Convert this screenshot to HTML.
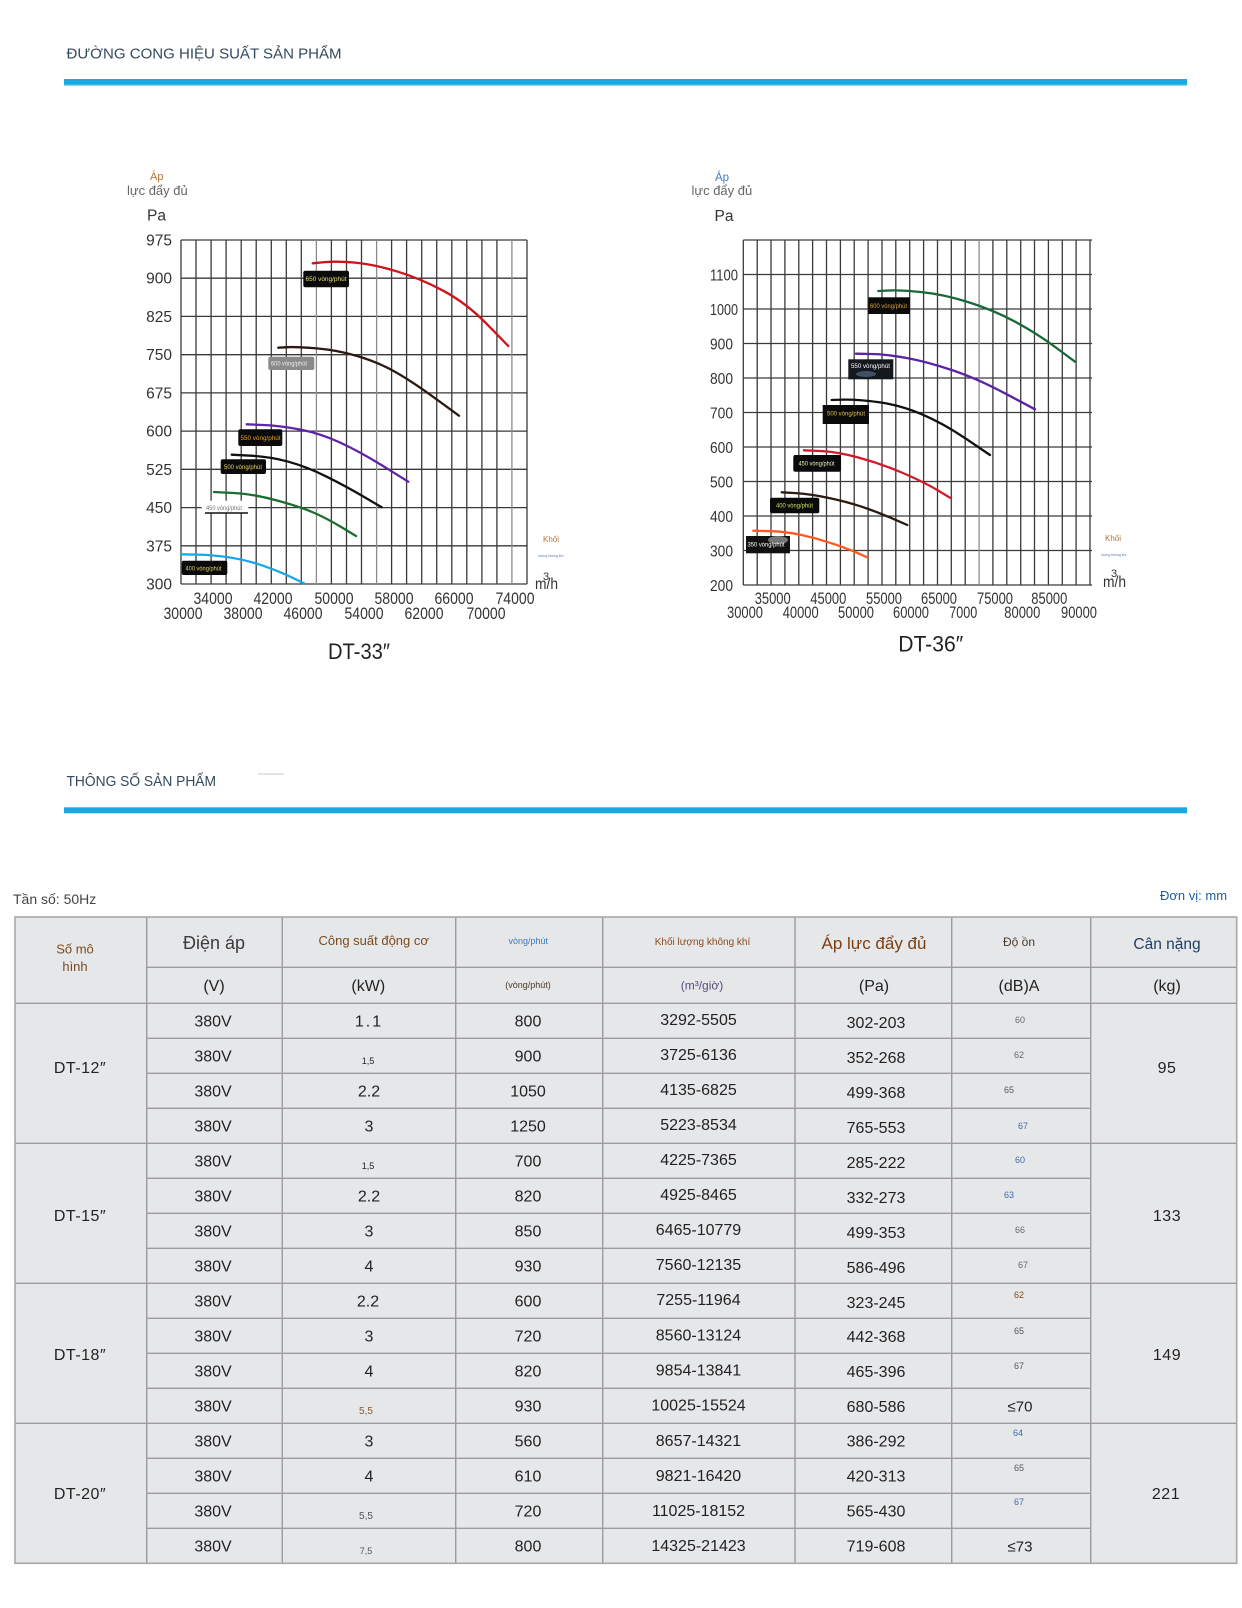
<!DOCTYPE html>
<html><head><meta charset="utf-8"><style>
html,body{margin:0;padding:0;background:#fff;}
body{width:1242px;height:1608px;overflow:hidden;}
svg{display:block;}
</style></head><body>
<svg width="1242" height="1608" viewBox="0 0 1242 1608" xmlns="http://www.w3.org/2000/svg" font-family="'Liberation Sans', Arial, sans-serif">
<rect width="1242" height="1608" fill="#fff"/>

<!-- Section headers -->
<text x="66.5" y="58.5" font-size="15.2" fill="#34495e" textLength="275" lengthAdjust="spacingAndGlyphs">ĐƯỜNG CONG HIỆU SUẤT SẢN PHẨM</text>
<rect x="64" y="79" width="1123" height="6.5" fill="#1ba7e0"/>
<rect x="64" y="84.5" width="1123" height="1.2" fill="#5cc3ee"/>

<text x="66.5" y="786" font-size="15" fill="#34495e" textLength="149.5" lengthAdjust="spacingAndGlyphs">THÔNG SỐ SẢN PHẨM</text>
<line x1="258" y1="774" x2="284" y2="774" stroke="#c8c8c8" stroke-width="1"/>
<rect x="64" y="807.3" width="1123" height="6" fill="#1ba7e0"/>

<!-- ============ CHART 1 ============ -->
<text x="150" y="180" font-size="11" fill="#b5733a">Áp</text>
<text x="127" y="195" font-size="13" fill="#666">lực đẩy đủ</text>
<text x="147" y="220.5" font-size="15.5" fill="#333">Pa</text>

<g stroke="#3a3a3a" stroke-width="1.3" fill="none">
<path d="M181 240V584M196 240V584M211.1 240V584M226.1 240V584M241.2 240V584M256.2 240V584M271.3 240V584M286.3 240V584M301.3 240V584M331.4 240V584M346.5 240V584M361.5 240V584M391.6 240V584M406.6 240V584M421.7 240V584M436.7 240V584M451.8 240V584M466.8 240V584M481.9 240V584M496.9 240V584M527 240V584"/>
<path d="M181 240H527M181 278.2H527M181 316.4H527M181 354.7H527M181 392.9H527M181 431.1H527M181 469.3H527M181 507.6H527M181 545.8H527M181 584H527"/>
</g>
<g stroke="#8c8c8c" stroke-width="1.3" fill="none">
<path d="M316.4 240V584M376.6 240V584M511.9 240V584"/>
</g>

<g font-size="15.5" fill="#333" text-anchor="end">
<text x="172" y="245.5">975</text>
<text x="172" y="283.7">900</text>
<text x="172" y="321.9">825</text>
<text x="172" y="360.2">750</text>
<text x="172" y="398.4">675</text>
<text x="172" y="436.6">600</text>
<text x="172" y="474.8">525</text>
<text x="172" y="513.1">450</text>
<text x="172" y="551.3">375</text>
<text x="172" y="589.5">300</text>
</g>

<g font-size="17" fill="#333" text-anchor="middle">
<text x="213" y="604" textLength="39" lengthAdjust="spacingAndGlyphs">34000</text>
<text x="273" y="604" textLength="39" lengthAdjust="spacingAndGlyphs">42000</text>
<text x="334" y="604" textLength="39" lengthAdjust="spacingAndGlyphs">50000</text>
<text x="394" y="604" textLength="39" lengthAdjust="spacingAndGlyphs">58000</text>
<text x="454" y="604" textLength="39" lengthAdjust="spacingAndGlyphs">66000</text>
<text x="515" y="604" textLength="39" lengthAdjust="spacingAndGlyphs">74000</text>
<text x="183" y="619" textLength="39" lengthAdjust="spacingAndGlyphs">30000</text>
<text x="243" y="619" textLength="39" lengthAdjust="spacingAndGlyphs">38000</text>
<text x="303" y="619" textLength="39" lengthAdjust="spacingAndGlyphs">46000</text>
<text x="364" y="619" textLength="39" lengthAdjust="spacingAndGlyphs">54000</text>
<text x="424" y="619" textLength="39" lengthAdjust="spacingAndGlyphs">62000</text>
<text x="486" y="619" textLength="39" lengthAdjust="spacingAndGlyphs">70000</text>
</g>

<text x="543" y="542" font-size="8" fill="#b5733a">Khối</text>
<text x="538" y="557" font-size="3.5" fill="#5a7ab0">lượng không khí</text>
<text x="535" y="589" font-size="16" fill="#333" textLength="23" lengthAdjust="spacingAndGlyphs">m/h</text>
<text x="543" y="580" font-size="11" fill="#333">3</text>

<text x="359" y="659" font-size="22" fill="#222" text-anchor="middle" textLength="62" lengthAdjust="spacingAndGlyphs">DT-33″</text>

<!-- curves chart 1 -->
<g fill="none" stroke-width="2.3" stroke-linecap="round" stroke-linejoin="round">
<path stroke="#d0121b" d="M312.7,263.3 L324.7,262.15 Q336.7,261 355,262.65 Q373.3,264.3 396.65,271.3 Q420,278.3 443.35,290.8 Q466.7,303.3 487.5,324.65 L508.3,346"/>
<path stroke="#2a1a12" d="M278.3,347.7 L287.5,347.2 Q296.7,346.7 316.7,348.35 Q336.7,350 356.7,355.85 Q376.7,361.7 393.35,370.85 Q410,380 434.5,397.85 L459,415.7"/>
<path stroke="#5f22a8" d="M246.7,424.3 L263.35,425 Q280,425.7 300,429.5 Q320,433.3 340,442.5 Q360,451.7 384.15,466.7 L408.3,481.7"/>
<path stroke="#111" d="M231.7,454.7 L250.85,455.7 Q270,456.7 288.35,461.7 Q306.7,466.7 326.7,476.7 Q346.7,486.7 364.2,497 L381.7,507.3"/>
<path stroke="#1a6e2e" d="M214,492 L233.65,493 Q253.3,494 276.65,500.35 Q300,506.7 313.35,512.5 Q326.7,518.3 341.35,527.15 L356,536"/>
<path stroke="#1aa6e8" d="M181,554.3 L197.15,554.65 Q213.3,555 230,557.5 Q246.7,560 263.35,565.85 Q280,571.7 292,577.5 L304,583.3"/>
</g>

<!-- label boxes chart 1 -->
<g font-size="6">
<rect x="303.3" y="270.7" width="45.7" height="16.6" rx="2" fill="#0a0a0a"/>
<text x="305.5" y="281" fill="#e6e070" textLength="41" lengthAdjust="spacingAndGlyphs">650 vòng/phút</text>
<rect x="268.3" y="356.7" width="46" height="13.3" rx="2" fill="#8a8a8a"/>
<text x="271" y="365.5" fill="#eee" textLength="36" lengthAdjust="spacingAndGlyphs">600 vòng/phút</text>
<rect x="238.3" y="429.3" width="44" height="16.7" rx="2" fill="#0a0a0a"/>
<text x="240.5" y="440" fill="#f0a020" textLength="40" lengthAdjust="spacingAndGlyphs">550 vòng/phút</text>
<rect x="220.7" y="459.3" width="45.3" height="14.7" rx="2" fill="#0a0a0a"/>
<text x="224" y="469" fill="#e8d060" textLength="38" lengthAdjust="spacingAndGlyphs">500 vòng/phút</text>
<rect x="201.7" y="500.7" width="46.6" height="12.6" fill="#fff"/>
<text x="206" y="510" fill="#777" textLength="36" lengthAdjust="spacingAndGlyphs">450 vòng/phút</text>
<line x1="205" y1="513" x2="248" y2="513" stroke="#111" stroke-width="1.6"/>
<rect x="181.7" y="560.7" width="45.6" height="14.3" rx="2" fill="#0a0a0a"/>
<text x="185.5" y="570.5" fill="#e0d060" textLength="36" lengthAdjust="spacingAndGlyphs">400 vòng/phút</text>
</g>

<!-- ============ CHART 2 ============ -->
<text x="715" y="181" font-size="11.5" fill="#3d7cc9">Áp</text>
<text x="691.5" y="195" font-size="13" fill="#666">lực đẩy đủ</text>
<text x="714.5" y="221" font-size="15.5" fill="#333">Pa</text>

<g stroke="#3a3a3a" stroke-width="1.3" fill="none">
<path d="M743.3 240V585M757.2 240V585M771 240V585M784.9 240V585M798.8 240V585M812.6 240V585M826.5 240V585M840.4 240V585M854.2 240V585M868.1 240V585M882 240V585M895.8 240V585M909.7 240V585M923.6 240V585M937.5 240V585M951.3 240V585M965.2 240V585M992.9 240V585M1006.8 240V585M1020.7 240V585M1034.5 240V585M1048.4 240V585M1062.3 240V585M1076.1 240V585M1090 240V585"/>
<path d="M743.3 240H1092M743.3 274.5H1092M743.3 309H1092M743.3 343.5H1092M743.3 378H1092M743.3 412.5H1092M743.3 447H1092M743.3 481.5H1092M743.3 516H1092M743.3 550.5H1092M743.3 585H1092"/>
</g>
<g stroke="#8c8c8c" stroke-width="1.3" fill="none">
<path d="M979.1 240V585"/>
</g>

<g font-size="16" fill="#333">
<text x="710" y="280.3" textLength="28" lengthAdjust="spacingAndGlyphs">1100</text>
<text x="710" y="314.8" textLength="28" lengthAdjust="spacingAndGlyphs">1000</text>
<text x="710" y="349.3" textLength="23" lengthAdjust="spacingAndGlyphs">900</text>
<text x="710" y="383.8" textLength="23" lengthAdjust="spacingAndGlyphs">800</text>
<text x="710" y="418.3" textLength="23" lengthAdjust="spacingAndGlyphs">700</text>
<text x="710" y="452.8" textLength="23" lengthAdjust="spacingAndGlyphs">600</text>
<text x="710" y="487.3" textLength="23" lengthAdjust="spacingAndGlyphs">500</text>
<text x="710" y="521.8" textLength="23" lengthAdjust="spacingAndGlyphs">400</text>
<text x="710" y="556.3" textLength="23" lengthAdjust="spacingAndGlyphs">300</text>
<text x="710" y="590.8" textLength="23" lengthAdjust="spacingAndGlyphs">200</text>
</g>

<g font-size="17" fill="#333" text-anchor="middle">
<text x="772.7" y="603.8" textLength="36" lengthAdjust="spacingAndGlyphs">35000</text>
<text x="828.3" y="603.8" textLength="36" lengthAdjust="spacingAndGlyphs">45000</text>
<text x="884" y="603.8" textLength="36" lengthAdjust="spacingAndGlyphs">55000</text>
<text x="939" y="603.8" textLength="36" lengthAdjust="spacingAndGlyphs">65000</text>
<text x="995" y="603.8" textLength="36" lengthAdjust="spacingAndGlyphs">75000</text>
<text x="1049.3" y="603.8" textLength="36" lengthAdjust="spacingAndGlyphs">85000</text>
<text x="745" y="617.8" textLength="36" lengthAdjust="spacingAndGlyphs">30000</text>
<text x="800.7" y="617.8" textLength="36" lengthAdjust="spacingAndGlyphs">40000</text>
<text x="856" y="617.8" textLength="36" lengthAdjust="spacingAndGlyphs">50000</text>
<text x="911" y="617.8" textLength="36" lengthAdjust="spacingAndGlyphs">60000</text>
<text x="963.3" y="617.8" textLength="28" lengthAdjust="spacingAndGlyphs">7000</text>
<text x="1022.3" y="617.8" textLength="36" lengthAdjust="spacingAndGlyphs">80000</text>
<text x="1079" y="617.8" textLength="36" lengthAdjust="spacingAndGlyphs">90000</text>
</g>

<text x="1105" y="541" font-size="8" fill="#b5733a">Khối</text>
<text x="1101" y="556" font-size="3.5" fill="#5a7ab0">lượng không khí</text>
<text x="1103" y="587" font-size="16" fill="#333" textLength="23" lengthAdjust="spacingAndGlyphs">m/h</text>
<text x="1111" y="577" font-size="11" fill="#333">3</text>

<text x="930.7" y="651.5" font-size="22" fill="#222" text-anchor="middle" textLength="65" lengthAdjust="spacingAndGlyphs">DT-36″</text>

<!-- curves chart 2 -->
<g fill="none" stroke-width="2.3" stroke-linecap="round" stroke-linejoin="round">
<path stroke="#17693a" d="M878.3,291 L889.15,290.5 Q900,290 921.65,292.15 Q943.3,294.3 968.3,302.15 Q993.3,310 1015,321.65 Q1036.7,333.3 1055.85,347.5 L1075,361.7"/>
<path stroke="#5b22a3" d="M856,353.7 L871.35,354 Q886.7,354.3 906.7,358 Q926.7,361.7 951.7,370 Q976.7,378.3 1005.85,393.8 L1035,409.3"/>
<path stroke="#111" d="M831.7,400 L844.2,399.65 Q856.7,399.3 878.35,402.15 Q900,405 921.65,414.15 Q943.3,423.3 966.65,439.15 L990,455"/>
<path stroke="#d11a2a" d="M804,450.3 L820.35,451 Q836.7,451.7 858.35,457.5 Q880,463.3 901.65,472.5 Q923.3,481.7 937.15,490 L951,498.3"/>
<path stroke="#2b1a10" d="M781.7,492.3 L795.85,493.15 Q810,494 828.35,497.85 Q846.7,501.7 861.7,506.7 Q876.7,511.7 892,518.35 L907.3,525"/>
<path stroke="#ff5a1f" d="M753.3,530.7 L770,531.2 Q786.7,531.7 801.7,535 Q816.7,538.3 831.7,543.3 Q846.7,548.3 857,552.8 L867.3,557.3"/>
</g>

<!-- label boxes chart 2 -->
<g font-size="6">
<rect x="868.3" y="297.3" width="41.7" height="16.7" fill="#0a0a0a"/>
<text x="870" y="308" fill="#e0a030" textLength="37" lengthAdjust="spacingAndGlyphs">600 vòng/phút</text>
<rect x="848.3" y="359.3" width="45" height="20" fill="#15181e"/>
<ellipse cx="866" cy="374" rx="10" ry="3" fill="#6a8ab0" opacity="0.5"/>
<text x="851" y="368" fill="#fff" textLength="39" lengthAdjust="spacingAndGlyphs">550 vòng/phút</text>
<rect x="822.7" y="405" width="46.3" height="19" fill="#0a0a0a"/>
<text x="827" y="415.5" fill="#e0c050" textLength="38" lengthAdjust="spacingAndGlyphs">500 vòng/phút</text>
<rect x="793.3" y="455" width="47.7" height="16.7" rx="2" fill="#0a0a0a"/>
<text x="798.5" y="465.5" fill="#f0f0c0" textLength="36" lengthAdjust="spacingAndGlyphs">450 vòng/phút</text>
<rect x="770" y="497.7" width="49.3" height="15.6" rx="2" fill="#0a0a0a"/>
<text x="776" y="507.5" fill="#d0e060" textLength="37" lengthAdjust="spacingAndGlyphs">400 vòng/phút</text>
<rect x="746" y="536" width="44" height="17.3" fill="#111"/>
<ellipse cx="778" cy="540" rx="10" ry="4" fill="#bbb" opacity="0.6"/>
<text x="747.5" y="546.5" fill="#fff" textLength="37" lengthAdjust="spacingAndGlyphs">350 vòng/phút</text>
</g>

<!-- ============ TABLE ============ -->
<text x="13" y="904" font-size="14" fill="#444">Tần số: 50Hz</text>
<text x="1160" y="900" font-size="13" fill="#1f5b9c">Đơn vị: mm</text>

<rect x="15" y="917" width="1221.7" height="646.3" fill="#e6e7e9"/>
<g stroke="#9c9c9c" stroke-width="1.4" fill="none">
<path d="M146.7 917V1563.3M282.3 917V1563.3M455.7 917V1563.3M602.7 917V1563.3M795 917V1563.3M951.7 917V1563.3M1090.7 917V1563.3"/>
<path d="M146.7 967.3H1236.7M15 1003.3H1236.7"/>
<path d="M146.7 1038.3H1090.7M146.7 1073.3H1090.7M146.7 1108.3H1090.7M15 1143.3H1236.7M146.7 1178.3H1090.7M146.7 1213.3H1090.7M146.7 1248.3H1090.7M15 1283.3H1236.7M146.7 1318.3H1090.7M146.7 1353.3H1090.7M146.7 1388.3H1090.7M15 1423.3H1236.7M146.7 1458.3H1090.7M146.7 1493.3H1090.7M146.7 1528.3H1090.7"/>
</g>
<rect x="15" y="917" width="1221.7" height="646.3" fill="none" stroke="#a8a8a8" stroke-width="1.6"/>

<!-- header texts -->
<g text-anchor="middle">
<text x="75" y="953.5" font-size="13" fill="#7b4a1e">Số mô</text>
<text x="75" y="971" font-size="13" fill="#7b4a1e">hình</text>
<text x="214" y="949" font-size="18" fill="#3b3b3b">Điện áp</text>
<text x="373.7" y="945" font-size="13" fill="#7b4a1e">Công suất động cơ</text>
<text x="528.3" y="944" font-size="9" fill="#3b78c0">vòng/phút</text>
<text x="702.5" y="945" font-size="10" fill="#8b4a1e">Khối lượng không khí</text>
<text x="874" y="949" font-size="17" fill="#7b3f14">Áp lực đẩy đủ</text>
<text x="1019" y="946" font-size="12" fill="#4a3a2a">Độ ồn</text>
<text x="1167" y="949" font-size="15.5" fill="#1e3f66">Cân nặng</text>

<text x="214" y="991" font-size="16" fill="#222">(V)</text>
<text x="368.3" y="991" font-size="16" fill="#222">(kW)</text>
<text x="528" y="988" font-size="9" fill="#4a3a2a">(vòng/phút)</text>
<text x="702" y="989.5" font-size="12" fill="#5a4a80">(m³/giờ)</text>
<text x="874" y="991" font-size="16" fill="#222">(Pa)</text>
<text x="1019" y="991" font-size="16" fill="#222">(dB)A</text>
<text x="1167" y="991" font-size="16" fill="#222">(kg)</text>
</g>

<!-- model names & weights -->
<g text-anchor="middle" font-size="16" fill="#222" letter-spacing="0.5">
<text x="80" y="1073">DT-12″</text>
<text x="80" y="1221">DT-15″</text>
<text x="80" y="1360">DT-18″</text>
<text x="80" y="1499">DT-20″</text>
<text x="1167" y="1073">95</text>
<text x="1167" y="1221">133</text>
<text x="1167" y="1360">149</text>
<text x="1166" y="1499">221</text>
</g>

<!-- voltage column -->
<g text-anchor="middle" font-size="16" fill="#222">
<text x="213" y="1026.6">380V</text>
<text x="213" y="1061.6">380V</text>
<text x="213" y="1096.6">380V</text>
<text x="213" y="1131.6">380V</text>
<text x="213" y="1166.6">380V</text>
<text x="213" y="1201.6">380V</text>
<text x="213" y="1236.6">380V</text>
<text x="213" y="1271.6">380V</text>
<text x="213" y="1306.6">380V</text>
<text x="213" y="1341.6">380V</text>
<text x="213" y="1376.6">380V</text>
<text x="213" y="1411.6">380V</text>
<text x="213" y="1446.6">380V</text>
<text x="213" y="1481.6">380V</text>
<text x="213" y="1516.6">380V</text>
<text x="213" y="1551.6">380V</text>
</g>

<!-- kW column -->
<g text-anchor="middle" font-size="16" fill="#222">
<text x="369" y="1026.6" letter-spacing="2">1.1</text>
<text x="368" y="1064" font-size="9">1,5</text>
<text x="369" y="1096.6">2.2</text>
<text x="369" y="1131.6">3</text>
<text x="368" y="1169" font-size="9">1,5</text>
<text x="369" y="1201.6">2.2</text>
<text x="369" y="1236.6">3</text>
<text x="369" y="1271.6">4</text>
<text x="368" y="1306.6">2.2</text>
<text x="369" y="1341.6">3</text>
<text x="369" y="1376.6">4</text>
<text x="366" y="1414" font-size="10" fill="#8b5a2b">5,5</text>
<text x="369" y="1446.6">3</text>
<text x="369" y="1481.6">4</text>
<text x="366" y="1519" font-size="10" fill="#555">5,5</text>
<text x="366" y="1554" font-size="9" fill="#555">7,5</text>
</g>

<!-- rpm column -->
<g text-anchor="middle" font-size="16" fill="#222">
<text x="528" y="1026.6">800</text>
<text x="528" y="1061.6">900</text>
<text x="528" y="1096.6">1050</text>
<text x="528" y="1131.6">1250</text>
<text x="528" y="1166.6">700</text>
<text x="528" y="1201.6">820</text>
<text x="528" y="1236.6">850</text>
<text x="528" y="1271.6">930</text>
<text x="528" y="1306.6">600</text>
<text x="528" y="1341.6">720</text>
<text x="528" y="1376.6">820</text>
<text x="528" y="1411.6">930</text>
<text x="528" y="1446.6">560</text>
<text x="528" y="1481.6">610</text>
<text x="528" y="1516.6">720</text>
<text x="528" y="1551.6">800</text>
</g>

<!-- airflow column -->
<g text-anchor="middle" font-size="16" fill="#222">
<text x="698.5" y="1025">3292-5505</text>
<text x="698.5" y="1060">3725-6136</text>
<text x="698.5" y="1095">4135-6825</text>
<text x="698.5" y="1130">5223-8534</text>
<text x="698.5" y="1165">4225-7365</text>
<text x="698.5" y="1200">4925-8465</text>
<text x="698.5" y="1235">6465-10779</text>
<text x="698.5" y="1270">7560-12135</text>
<text x="698.5" y="1305">7255-11964</text>
<text x="698.5" y="1340.5">8560-13124</text>
<text x="698.5" y="1375.5">9854-13841</text>
<text x="698.5" y="1410.5">10025-15524</text>
<text x="698.5" y="1446">8657-14321</text>
<text x="698.5" y="1481">9821-16420</text>
<text x="698.5" y="1516">11025-18152</text>
<text x="698.5" y="1551">14325-21423</text>
</g>

<!-- pressure column -->
<g text-anchor="middle" font-size="16" fill="#222">
<text x="876" y="1028">302-203</text>
<text x="876" y="1063">352-268</text>
<text x="876" y="1098">499-368</text>
<text x="876" y="1133">765-553</text>
<text x="876" y="1168">285-222</text>
<text x="876" y="1203">332-273</text>
<text x="876" y="1238">499-353</text>
<text x="876" y="1273">586-496</text>
<text x="876" y="1308">323-245</text>
<text x="876" y="1342">442-368</text>
<text x="876" y="1377">465-396</text>
<text x="876" y="1412">680-586</text>
<text x="876" y="1446.6">386-292</text>
<text x="876" y="1481.6">420-313</text>
<text x="876" y="1516.6">565-430</text>
<text x="876" y="1551.6">719-608</text>
</g>

<!-- dB column -->
<g text-anchor="middle" font-size="9">
<text x="1020" y="1023" fill="#666">60</text>
<text x="1019" y="1058" fill="#666">62</text>
<text x="1009" y="1093" fill="#555">65</text>
<text x="1023" y="1129" fill="#3d6bb0">67</text>
<text x="1020" y="1163" fill="#3d6bb0">60</text>
<text x="1009" y="1198" fill="#3d6bb0">63</text>
<text x="1020" y="1233" fill="#666">66</text>
<text x="1023" y="1268" fill="#666">67</text>
<text x="1019" y="1298" fill="#7b4a1e">62</text>
<text x="1019" y="1334" fill="#555">65</text>
<text x="1019" y="1369" fill="#555">67</text>
<text x="1020" y="1411.6" font-size="15" fill="#222">≤70</text>
<text x="1018" y="1436" fill="#3d6bb0">64</text>
<text x="1019" y="1471" fill="#555">65</text>
<text x="1019" y="1505" fill="#3d6bb0">67</text>
<text x="1020" y="1551.6" font-size="15" fill="#222">≤73</text>
</g>

</svg>
</body></html>
